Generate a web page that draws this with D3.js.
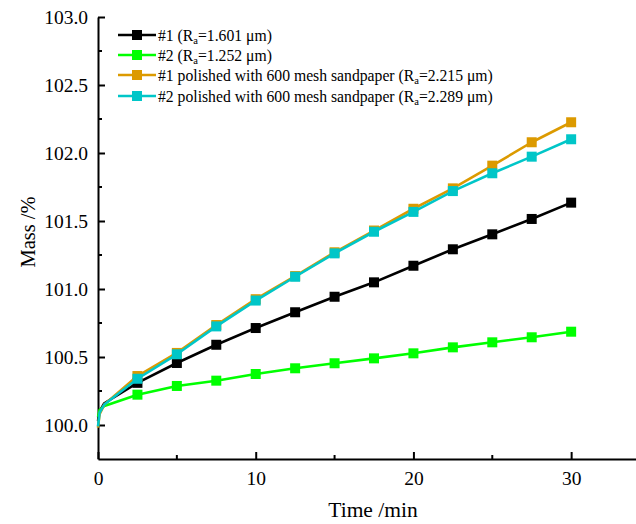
<!DOCTYPE html>
<html>
<head>
<meta charset="utf-8">
<script src="https://cdn.jsdelivr.net/npm/d3@7"></script>
<style>
  body { margin: 0; background: #fff; }
  svg, svg text { display: block; font-family: "Liberation Serif", "Times New Roman", serif; }
</style>
</head>
<body>
<div id="chart"></div>
<script>
// time in minutes, mass in %
let time = [0, 0.1, 0.4, 2.5, 5, 7.5, 10, 12.5, 15, 17.5, 20, 22.5, 25, 27.5, 30]
let mass1 = [100.03, 100.10, 100.16, 100.31, 100.456, 100.59, 100.713, 100.829, 100.943, 101.049, 101.171, 101.292, 101.402, 101.515, 101.635]
let mass2 = [100.06, 100.11, 100.14, 100.223, 100.287, 100.326, 100.375, 100.417, 100.454, 100.49, 100.527, 100.571, 100.608, 100.645, 100.686]
let mass1p = [99.98, 100.08, 100.15, 100.36, 100.53, 100.735, 100.925, 101.095, 101.27, 101.43, 101.59, 101.74, 101.907, 102.079, 102.226]
let mass2p = [99.99, 100.09, 100.15, 100.34, 100.52, 100.725, 100.915, 101.09, 101.262, 101.421, 101.567, 101.72, 101.851, 101.973, 102.101]

let seriesNames = [
    ["#1 (R", "a", "=1.601 μm)"],
    ["#2 (R", "a", "=1.252 μm)"],
    ["#1 polished with 600 mesh sandpaper (R", "a", "=2.215 μm)"],
    ["#2 polished with 600 mesh sandpaper (R", "a", "=2.289 μm)"]
]
let seriesColors = ["#000000", "#00ff00", "#dc9a00", "#00c6c8"]
let seriesValues = [mass1, mass2, mass1p, mass2p]

let xTicks = [0, 10, 20, 30]
let xMinor = [5, 15, 25]
let yTicks = [100.0, 100.5, 101.0, 101.5, 102.0, 102.5, 103.0]
let yMinor = [100.25, 100.75, 101.25, 101.75, 102.25, 102.75]

const width = 636, height = 524
const serif = "'Liberation Serif', 'Times New Roman', serif"
const svg = d3.select("#chart").append("svg")
    .attr("width", width).attr("height", height)

var x = d3.scaleLinear().domain([0, 35]).range([98, 650])
var y = d3.scaleLinear().domain([99.75, 103]).range([459, 17])

// axes, ticks inside
let xAxis = svg.append("g").attr("transform", "translate(0,459)")
    .call(d3.axisBottom(x).tickValues(xTicks).tickFormat(d3.format("d"))
        .tickSizeInner(-7).tickSizeOuter(0).tickPadding(12))
xAxis.selectAll(".minor").data(xMinor).enter().append("line")
    .attr("x1", d => x(d)).attr("x2", d => x(d))
    .attr("y1", 0).attr("y2", -4)
    .attr("stroke", "#000").attr("stroke-width", 2)

let yAxis = svg.append("g").attr("transform", "translate(98,0)")
    .call(d3.axisLeft(y).tickValues(yTicks).tickFormat(d3.format(".1f"))
        .tickSizeInner(-7).tickSizeOuter(0).tickPadding(10))
yAxis.selectAll(".minor").data(yMinor).enter().append("line")
    .attr("y1", d => y(d)).attr("y2", d => y(d))
    .attr("x1", 0).attr("x2", 4)
    .attr("stroke", "#000").attr("stroke-width", 2)

svg.selectAll("g").attr("font-family", null)
svg.selectAll(".domain").attr("stroke-width", 2)
svg.selectAll(".tick line").attr("stroke-width", 2)
svg.selectAll(".tick text").attr("font-size", 19.5)
    .style("font-family", serif).attr("fill", "#000")

// axis titles
svg.append("text")
    .attr("x", 373).attr("y", 517)
    .attr("text-anchor", "middle").attr("font-size", 21.5)
    .text("Time /min")
svg.append("text")
    .attr("transform", "translate(35,232) rotate(-90)")
    .attr("text-anchor", "middle").attr("font-size", 20.5)
    .text("Mass /%")

// series
let line = d3.line().x(d => x(d.t)).y(d => y(d.v))
seriesValues.forEach(function(vals, i){
    let pts = vals.map((v, j) => ({t: time[j], v: v}))
    svg.append("path").datum(pts)
        .attr("d", line)
        .attr("fill", "none")
        .attr("stroke", seriesColors[i])
        .attr("stroke-width", 2.6)
        .attr("stroke-linejoin", "round")
    svg.selectAll(null).data(pts.filter(d => d.t >= 2.5)).enter()
        .append("rect")
        .attr("x", d => x(d.t) - 5).attr("y", d => y(d.v) - 5)
        .attr("width", 10).attr("height", 10)
        .attr("fill", seriesColors[i])
})

// legend
let legendY = [35, 55, 75, 96]
seriesNames.forEach(function(name, i){
    let g = svg.append("g").attr("transform", "translate(0," + legendY[i] + ")")
    g.append("line").attr("x1", 118).attr("x2", 156).attr("y1", 0).attr("y2", 0)
        .attr("stroke", seriesColors[i]).attr("stroke-width", 2.6)
    g.append("rect").attr("x", 132).attr("y", -5).attr("width", 10).attr("height", 10)
        .attr("fill", seriesColors[i])
    let t = g.append("text").attr("x", 158).attr("y", 5.5).attr("font-size", 15.7)
    t.append("tspan").text(name[0])
    t.append("tspan").attr("font-size", 10.5).attr("dy", 3).text(name[1])
    t.append("tspan").attr("dy", -3).text(name[2])
})
</script>
</body>
</html>
